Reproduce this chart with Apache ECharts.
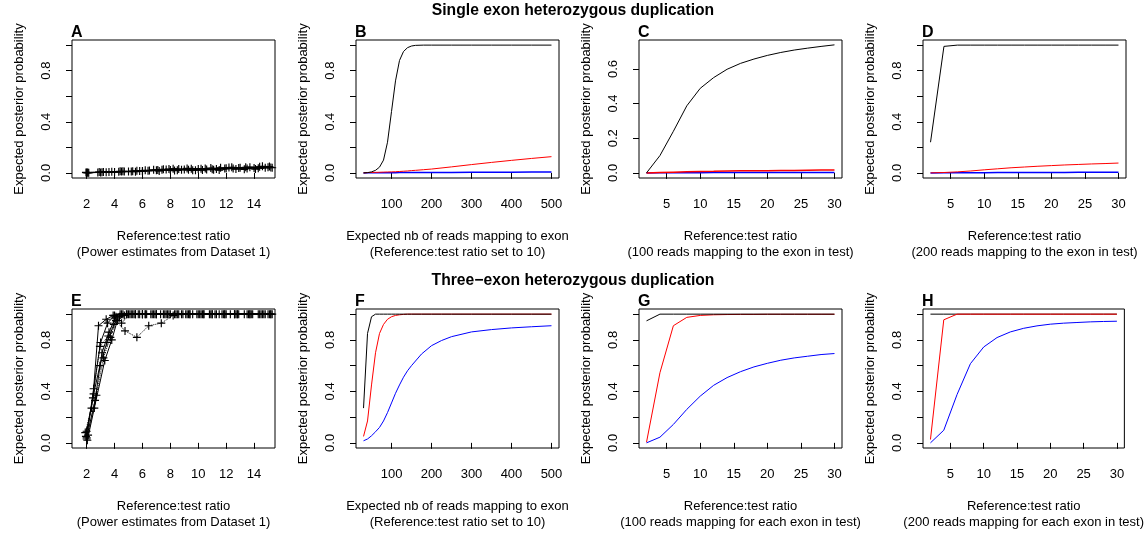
<!DOCTYPE html>
<html>
<head>
<meta charset="utf-8">
<script src="https://cdn.jsdelivr.net/npm/echarts@6/dist/echarts.min.js"></script>
<style>
  html, body { margin: 0; padding: 0; background: #fff; }
  #chart { width: 1146px; height: 533px; }
</style>
</head>
<body>
<div id="chart"></div>
<script>
// ---- panel A: single exon, power estimates from dataset 1 (several samples)
const aX1 = [2.0, 3.0, 4.0, 5.0, 6.0, 7.0, 8.0, 9.0, 10.0, 11.0, 12.0, 13.0, 14.0, 15.0];
const aY1 = [0.002, 0.004, 0.007, 0.010, 0.014, 0.020, 0.022, 0.027, 0.030, 0.028, 0.036, 0.040, 0.038, 0.045];
const aX2 = [2.1, 3.1, 4.3, 5.3, 6.4, 7.4, 8.5, 9.5, 10.6, 11.6, 12.7, 13.7, 14.8];
const aY2 = [0.001, 0.005, 0.008, 0.013, 0.017, 0.025, 0.020, 0.033, 0.026, 0.040, 0.030, 0.045, 0.040];
const aX3 = [1.95, 2.9, 3.8, 4.7, 5.6, 6.5, 7.5, 8.3, 9.2, 10.2, 11.1, 12.2, 13.3, 14.4, 15.1];
const aY3 = [0.004, 0.006, 0.009, 0.011, 0.016, 0.018, 0.028, 0.018, 0.035, 0.032, 0.025, 0.042, 0.028, 0.048, 0.050];
const aX4 = [2.05, 3.2, 4.5, 5.8, 7.1, 7.9, 8.8, 9.8, 10.9, 11.9, 12.9, 14.1, 15.2];
const aY4 = [0.003, 0.007, 0.010, 0.015, 0.022, 0.030, 0.024, 0.021, 0.038, 0.034, 0.038, 0.030, 0.042];
const aX5 = [2.15, 3.4, 4.6, 5.5, 6.2, 7.2, 8.2, 9.3, 10.3, 11.3, 12.4, 13.5, 14.6];
const aY5 = [0.002, 0.005, 0.012, 0.009, 0.020, 0.015, 0.032, 0.024, 0.022, 0.030, 0.044, 0.034, 0.052];
const aX6 = [2.0, 2.8, 3.6, 4.4, 5.2, 6.0, 6.8, 7.7, 8.6, 9.6, 10.5, 11.5, 12.5, 13.4, 14.3, 15.3];
const aY6 = [0.001, 0.003, 0.006, 0.012, 0.011, 0.013, 0.024, 0.026, 0.030, 0.020, 0.034, 0.022, 0.035, 0.044, 0.036, 0.040];

// ---- panel E: three exons, power estimates from dataset 1
const eX1 = [2.0, 2.5, 3.0, 3.5, 4.0, 4.5, 5.0, 5.5, 6.0, 6.6, 7.3, 8.0, 8.8, 9.6, 10.4, 11.2, 12.0, 12.9, 13.8, 14.7];
const eY1 = [0.03, 0.42, 0.78, 0.93, 0.99, 1, 1, 1, 1, 1, 1, 1, 1, 1, 1, 1, 1, 1, 1, 1];
const eX2 = [1.95, 2.45, 2.85, 3.4, 3.9, 4.4, 4.9, 5.4, 6.0, 6.7, 7.5, 8.3, 9.1, 10.0, 10.9, 11.8, 12.7, 13.6, 14.5, 15.2];
const eY2 = [0.05, 0.35, 0.91, 0.96, 0.99, 1, 1, 1, 1, 1, 1, 1, 1, 1, 1, 1, 1, 1, 1, 1];
const eX3 = [2.05, 2.55, 3.3, 3.8, 4.2, 4.7, 5.2, 5.8, 6.3, 7.0, 7.8, 8.6, 9.4, 10.2, 11.0, 11.9, 12.8, 13.7, 14.6, 15.1];
const eY3 = [0.02, 0.27, 0.64, 0.80, 0.95, 0.99, 1, 1, 1, 1, 1, 1, 1, 1, 1, 1, 1, 1, 1, 1];
const eX4 = [2.1, 2.7, 3.2, 3.7, 4.1, 4.75, 5.6, 6.45, 7.35, 8.2, 9.3, 10.4, 11.5, 12.6, 13.7, 14.8];
const eY4 = [0.06, 0.37, 0.66, 0.82, 0.95, 0.87, 0.82, 0.91, 0.93, 0.99, 1, 1, 1, 1, 1, 1];
const eX5 = [1.9, 2.35, 2.95, 3.55, 4.0, 4.5, 5.1, 5.7, 6.2, 6.9, 7.6, 8.4, 9.2, 10.1, 11.0, 11.9, 12.8, 13.9, 15.0];
const eY5 = [0.08, 0.27, 0.75, 0.83, 0.97, 0.93, 1, 1, 1, 1, 1, 1, 1, 1, 1, 1, 1, 1, 1];
const eX6 = [2.0, 2.6, 3.1, 3.6, 4.1, 4.6, 5.3, 6.0, 6.8, 7.7, 8.5, 9.4, 10.3, 11.3, 12.3, 13.3, 14.3, 15.2];
const eY6 = [0.04, 0.33, 0.70, 0.86, 0.98, 1, 1, 1, 1, 1, 1, 1, 1, 1, 1, 1, 1, 1];
const eX7 = [2.0, 2.5, 2.95, 3.45, 3.95, 4.35, 4.85, 5.5, 6.2, 7.0, 7.9, 8.9, 9.9, 10.8, 11.7, 12.6, 13.5, 14.4, 15.3];
const eY7 = [0.09, 0.38, 0.60, 0.78, 0.92, 0.98, 1, 1, 1, 1, 1, 1, 1, 1, 1, 1, 1, 1, 1];

// ---- panels B and F: x = expected nb of reads mapping to exon
const bX = [30, 40, 50, 60, 70, 80, 90, 100, 110, 120, 130, 140, 150, 160, 180, 200, 250, 300, 350, 400, 450, 500];
const bBlack = [0, 0.002, 0.008, 0.02, 0.045, 0.1, 0.24, 0.48, 0.72, 0.88, 0.95, 0.98, 0.993, 0.998, 1, 1, 1, 1, 1, 1, 1, 1];
const bRed = [0, 0.002, 0.003, 0.004, 0.005, 0.006, 0.007, 0.008, 0.009, 0.011, 0.013, 0.015, 0.018, 0.02, 0.025, 0.03, 0.047, 0.065, 0.082, 0.098, 0.113, 0.127];
const bBlue = [0, 0.001, 0.001, 0.001, 0.002, 0.002, 0.002, 0.002, 0.002, 0.003, 0.003, 0.003, 0.003, 0.003, 0.004, 0.004, 0.004, 0.005, 0.005, 0.005, 0.006, 0.006];

const fX = [30, 40, 50, 60, 70, 80, 90, 100, 110, 120, 130, 140, 150, 175, 200, 225, 250, 300, 350, 400, 450, 500];
const fBlack = [0.27, 0.85, 0.98, 1, 1, 1, 1, 1, 1, 1, 1, 1, 1, 1, 1, 1, 1, 1, 1, 1, 1, 1];
const fRed = [0.05, 0.17, 0.45, 0.7, 0.85, 0.92, 0.96, 0.98, 0.99, 0.995, 0.998, 1, 1, 1, 1, 1, 1, 1, 1, 1, 1, 1];
const fBlue = [0.016, 0.03, 0.055, 0.086, 0.12, 0.17, 0.235, 0.31, 0.385, 0.45, 0.51, 0.56, 0.6, 0.69, 0.755, 0.795, 0.825, 0.862, 0.88, 0.893, 0.902, 0.91];

// ---- panels C, D, G, H: x = reference:test ratio
const ratioX = [2, 4, 6, 8, 10, 12, 14, 16, 18, 20, 22, 24, 26, 28, 30];
const cBlack = [0, 0.1, 0.24, 0.387, 0.488, 0.55, 0.598, 0.632, 0.657, 0.678, 0.695, 0.709, 0.72, 0.73, 0.739];
const cRed = [0, 0.002, 0.004, 0.006, 0.008, 0.009, 0.011, 0.012, 0.012, 0.013, 0.014, 0.014, 0.015, 0.016, 0.016];
const cBlue = [0, 0.001, 0.001, 0.001, 0.001, 0.002, 0.002, 0.002, 0.002, 0.002, 0.002, 0.002, 0.002, 0.002, 0.002];

const dBlack = [0.24, 0.99, 1, 1, 1, 1, 1, 1, 1, 1, 1, 1, 1, 1, 1];
const dRed = [0, 0.003, 0.008, 0.015, 0.024, 0.032, 0.04, 0.046, 0.052, 0.057, 0.062, 0.066, 0.07, 0.073, 0.077];
const dBlue = [0, 0.001, 0.001, 0.002, 0.002, 0.003, 0.003, 0.003, 0.004, 0.004, 0.004, 0.005, 0.005, 0.005, 0.005];

const gBlack = [0.948, 1, 1, 1, 1, 1, 1, 1, 1, 1, 1, 1, 1, 1, 1];
const gRed = [0.005, 0.545, 0.91, 0.975, 0.99, 0.995, 0.997, 0.998, 0.998, 0.999, 0.999, 0.999, 0.999, 0.999, 0.999];
const gBlue = [0, 0.044, 0.143, 0.26, 0.363, 0.447, 0.507, 0.553, 0.59, 0.618, 0.642, 0.66, 0.673, 0.686, 0.694];

const hBlack = [1, 1, 1, 1, 1, 1, 1, 1, 1, 1, 1, 1, 1, 1, 1];
const hRed = [0.026, 0.956, 1, 1, 1, 1, 1, 1, 1, 1, 1, 1, 1, 1, 1];
const hBlue = [0, 0.098, 0.376, 0.615, 0.745, 0.818, 0.862, 0.89, 0.909, 0.922, 0.93, 0.935, 0.94, 0.943, 0.945];

// ---- tick labels
const ratioTicksA = [2, 4, 6, 8, 10, 12, 14];
const readTicks = [100, 200, 300, 400, 500];
const ratioTicks = [5, 10, 15, 20, 25, 30];
const probTicks = [0, 0.2, 0.4, 0.6, 0.8, 1.0];
const probLabels = [0, 0.4, 0.8];
const probTicksC = [0, 0.2, 0.4, 0.6];

const yName = 'Expected posterior probability';
const xNames = [
    'Reference:test ratio\n(Power estimates from Dataset 1)',
    'Expected nb of reads mapping to exon\n(Reference:test ratio set to 10)',
    'Reference:test ratio\n(100 reads mapping to the exon in test)',
    'Reference:test ratio\n(200 reads mapping to the exon in test)',
    'Reference:test ratio\n(Power estimates from Dataset 1)',
    'Expected nb of reads mapping to exon\n(Reference:test ratio set to 10)',
    'Reference:test ratio\n(100 reads mapping for each exon in test)',
    'Reference:test ratio\n(200 reads mapping for each exon in test)'
];
const letters = ['A', 'B', 'C', 'D', 'E', 'F', 'G', 'H'];

const FONT = '"Liberation Sans", Arial, Helvetica, sans-serif';
const lefts = [72, 356, 639, 923];
const tops = [40, 309];
const heights = [138, 139];

function zip (xs, ys) {
    return xs.map(function (x, i) { return [x, ys[i]]; });
}

const plus = 'path://M3,0h1v3h3v1h-3v3h-1v-3h-3v-1h3z';

const panels = [
    { xr: [0.95, 15.5], xt: ratioTicksA, yr: [-0.04, 1.04], yt: probTicks, yl: probLabels },
    { xr: [11.2, 518.8], xt: readTicks, yr: [-0.04, 1.04], yt: probTicks, yl: probLabels },
    { xr: [0.88, 31.12], xt: ratioTicks, yr: [-0.0295, 0.767], yt: probTicksC, yl: probTicksC },
    { xr: [0.88, 31.12], xt: ratioTicks, yr: [-0.04, 1.04], yt: probTicks, yl: probLabels },
    { xr: [0.95, 15.5], xt: ratioTicksA, yr: [-0.04, 1.04], yt: probTicks, yl: probLabels },
    { xr: [11.2, 518.8], xt: readTicks, yr: [-0.04, 1.04], yt: probTicks, yl: probLabels },
    { xr: [0.88, 31.12], xt: ratioTicks, yr: [-0.04, 1.04], yt: probTicks, yl: probLabels },
    { xr: [0.88, 31.12], xt: ratioTicks, yr: [-0.04, 1.04], yt: probTicks, yl: probLabels }
];

const grids = [], xAxes = [], yAxes = [], titles = [];
panels.forEach(function (p, i) {
    const row = Math.floor(i / 4), col = i % 4;
    grids.push({
        left: lefts[col], top: tops[row], width: 203, height: heights[row],
        show: true, borderColor: '#000', borderWidth: 1, backgroundColor: 'transparent'
    });
    xAxes.push({
        type: 'value', gridIndex: i, min: p.xr[0], max: p.xr[1],
        splitLine: { show: false },
        axisLine: { show: false },
        axisTick: { show: true, length: 6, customValues: p.xt, lineStyle: { color: '#000' } },
        axisLabel: { customValues: p.xt, margin: 20, color: '#000', fontSize: 13, fontFamily: FONT },
        name: xNames[i], nameLocation: 'middle', nameGap: 50,
        nameTextStyle: { color: '#000', fontSize: 13, lineHeight: 16, fontFamily: FONT }
    });
    yAxes.push({
        type: 'value', gridIndex: i, min: p.yr[0], max: p.yr[1],
        splitLine: { show: false },
        axisLine: { show: false },
        axisTick: { show: true, length: 6, customValues: p.yt, lineStyle: { color: '#000' } },
        axisLabel: {
            customValues: p.yl, rotate: 90, margin: 19, color: '#000', fontSize: 13, fontFamily: FONT,
            formatter: function (v) { return v.toFixed(1); }
        },
        name: yName, nameLocation: 'middle', nameGap: 46, nameRotate: 90,
        nameTextStyle: { color: '#000', fontSize: 13, fontFamily: FONT }
    });
    titles.push({
        text: letters[i], left: lefts[col] - 1, top: tops[row] - 15, padding: 0,
        textStyle: { fontSize: 16, fontWeight: 'bold', color: '#000', fontFamily: FONT }
    });
});
titles.push({
    text: 'Single exon heterozygous duplication', left: 'center', top: 3, padding: 0,
    textStyle: { fontSize: 15.7, fontWeight: 'bold', color: '#000', fontFamily: FONT }
});
titles.push({
    text: 'Three\u2212exon heterozygous duplication', left: 'center', top: 273, padding: 0,
    textStyle: { fontSize: 15.7, fontWeight: 'bold', color: '#000', fontFamily: FONT }
});

const series = [];
function addLine (idx, xs, ys, color, opts) {
    opts = opts || {};
    series.push({
        type: 'line', xAxisIndex: idx, yAxisIndex: idx,
        data: zip(xs, ys),
        symbol: opts.marker ? plus : 'none',
        symbolSize: 8,
        itemStyle: { color: color },
        lineStyle: { color: color, width: opts.width || 1, type: opts.dash || 'solid' },
        silent: true, z: opts.z || 2
    });
}

// scatter-with-lines panels
[[aX1, aY1], [aX2, aY2], [aX3, aY3], [aX4, aY4], [aX5, aY5], [aX6, aY6]].forEach(function (s, k) {
    addLine(0, s[0], s[1], '#000', { marker: true, dash: k === 3 ? 'dotted' : 'solid' });
});
[[eX1, eY1], [eX2, eY2], [eX3, eY3], [eX4, eY4], [eX5, eY5], [eX6, eY6], [eX7, eY7]].forEach(function (s, k) {
    addLine(4, s[0], s[1], '#000', { marker: true, dash: (k === 3 || k === 4) ? 'dotted' : 'solid' });
});

// curve panels
addLine(1, bX, bBlue, '#0000ff', { width: 1.5 });
addLine(1, bX, bRed, '#ff0000');
addLine(1, bX, bBlack, '#000');
addLine(2, ratioX, cBlue, '#0000ff', { width: 1.5 });
addLine(2, ratioX, cRed, '#ff0000', { width: 1.5 });
addLine(2, ratioX, cBlack, '#000');
addLine(3, ratioX, dBlue, '#0000ff', { width: 1.5 });
addLine(3, ratioX, dRed, '#ff0000');
addLine(3, ratioX, dBlack, '#000');
addLine(5, fX, fBlue, '#0000ff');
addLine(5, fX, fRed, '#ff0000');
addLine(5, fX, fBlack, '#000');
addLine(6, ratioX, gBlue, '#0000ff');
addLine(6, ratioX, gRed, '#ff0000');
addLine(6, ratioX, gBlack, '#000');
addLine(7, ratioX, hBlue, '#0000ff');
addLine(7, ratioX, hBlack, '#000');
addLine(7, ratioX, hRed, '#ff0000');

const chart = echarts.init(document.getElementById('chart'));
chart.setOption({
    animation: false,
    backgroundColor: '#fff',
    title: titles,
    grid: grids,
    xAxis: xAxes,
    yAxis: yAxes,
    series: series
});
window.addEventListener('resize', function () {
    chart.resize();
});
</script>
</body>
</html>
